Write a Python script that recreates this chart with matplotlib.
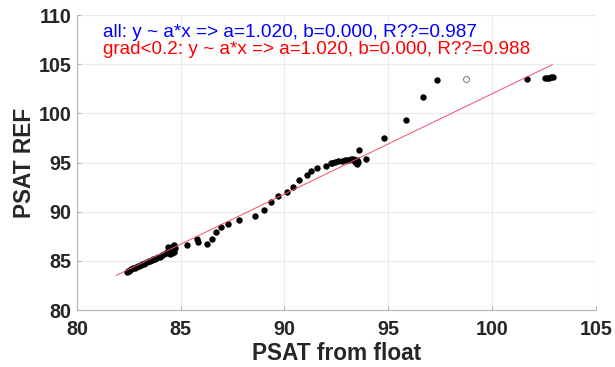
import numpy as np
import matplotlib
matplotlib.use('Agg')
import matplotlib.pyplot as plt

plt.rcParams['font.family'] = ['Liberation Sans', 'DejaVu Sans']

# PSAT from float (x) vs PSAT REF (y)
psat_float = [82.40, 82.45, 82.50, 82.55, 82.62, 82.70, 82.78, 82.85, 82.92, 83.00,
              83.08, 83.15, 83.22, 83.30, 83.38, 83.45, 83.52, 83.60, 83.68, 83.75,
              83.82, 83.90, 83.98, 84.05, 84.12, 84.20, 84.28, 84.35, 84.42, 84.48,
              84.55, 84.62, 84.70, 84.40, 84.50, 84.60, 84.70, 84.65, 84.72,
              85.28, 85.77, 85.85, 86.25, 86.52, 86.70, 86.92, 87.29, 87.82, 88.57,
              89.02, 89.33, 89.67, 90.10, 90.42, 90.69, 91.09, 91.30, 91.58, 91.99,
              92.22, 92.30, 92.45, 92.60, 92.75, 92.90, 93.00, 93.10, 93.20, 93.30,
              93.40, 93.50, 93.55, 93.50, 93.40, 93.60, 93.92, 94.79, 95.85, 96.68,
              97.33, 101.66, 102.55, 102.65, 102.75, 102.85, 102.93]
psat_ref = [83.85, 83.95, 84.02, 84.10, 84.18, 84.25, 84.32, 84.40, 84.45, 84.52,
            84.60, 84.66, 84.72, 84.80, 84.86, 84.95, 85.02, 85.08, 85.15, 85.22,
            85.30, 85.38, 85.45, 85.52, 85.60, 85.70, 85.80, 85.92, 86.05, 86.20,
            86.35, 86.50, 86.58, 86.45, 85.70, 85.80, 85.90, 86.20, 86.30,
            86.60, 87.21, 86.94, 86.70, 87.21, 87.96, 88.47, 88.74, 89.15, 89.59,
            90.20, 90.95, 91.63, 92.04, 92.55, 93.23, 93.78, 94.11, 94.46, 94.66,
            94.93, 95.00, 95.10, 95.15, 95.20, 95.25, 95.28, 95.30, 95.32, 95.35,
            95.30, 95.25, 95.10, 94.90, 95.05, 96.30, 95.40, 97.52, 99.29, 101.67,
            103.37, 103.50, 103.65, 103.65, 103.65, 103.67, 103.68]

# excluded point (open marker)
out_x = [98.74]
out_y = [103.47]

# fit y = a*x
a_fit = 1.020
fit_x = [81.9, 102.9]

label_all = 'all: y ~ a*x => a=1.020, b=0.000, R??=0.987'
label_grad = 'grad<0.2: y ~ a*x => a=1.020, b=0.000, R??=0.988'

fig = plt.figure(figsize=(6.15, 3.67), dpi=100)
ax = fig.add_axes([0.125, 0.155, 0.844, 0.804])

ax.plot(psat_float, psat_ref, 'o', color='k', markersize=4.6, markeredgewidth=0)
ax.plot(out_x, out_y, 'o', markerfacecolor='white', markeredgecolor='#777777',
        markersize=4.3, markeredgewidth=0.7)
fx = np.array(fit_x)
ax.plot(fx, a_fit * fx, '-', color='#f0506a', linewidth=0.7)

ax.text(81.25, 108.2, label_all, color='#0000ff', fontsize=13.7, va='center')
ax.text(81.25, 106.45, label_grad, color='#ff0000', fontsize=13.6, va='center')

ax.set_xlim(80, 105)
ax.set_ylim(80, 110)
ax.set_xticks([80, 85, 90, 95, 100, 105])
ax.set_yticks([80, 85, 90, 95, 100, 105, 110])
ax.grid(True, color='#ebebeb', linewidth=0.8)
ax.set_axisbelow(True)

for s in ['top', 'right']:
    ax.spines[s].set_visible(False)
for s in ['left', 'bottom']:
    ax.spines[s].set_color('#b3b3b3')
    ax.spines[s].set_linewidth(0.8)

ax.tick_params(direction='in', length=3, color='#b3b3b3', labelcolor='#262626',
               labelsize=14.2)
ax.tick_params(axis='x', pad=7)
ax.tick_params(axis='y', pad=4)
for lbl in ax.get_xticklabels() + ax.get_yticklabels():
    lbl.set_fontweight('bold')

ax.set_xlabel('PSAT from float', fontsize=16.3, fontweight='bold', color='#262626',
              labelpad=2)
ax.set_ylabel('PSAT REF', fontsize=16.3, fontweight='bold', color='#262626',
              labelpad=2)

fig.savefig('out.png', dpi=100)
